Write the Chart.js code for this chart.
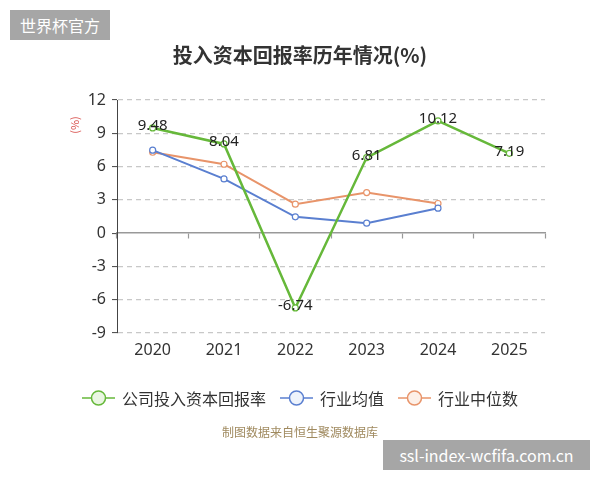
<!DOCTYPE html>
<html>
<head>
<meta charset="utf-8">
<script src="https://cdn.jsdelivr.net/npm/chart.js@4.4.0/dist/chart.umd.min.js"></script>
<style>
  html, body { margin: 0; padding: 0; background: #fff; }
  #wrap { position: relative; width: 600px; height: 480px; overflow: hidden; font-family: "Noto Sans CJK SC", "Noto Sans", sans-serif; }
  #c { position: absolute; left: 0; top: 0; }
  .abs { position: absolute; white-space: nowrap; }
  #wm1 { left: 10px; top: 10px; width: 100px; height: 30px; background: #a6a6a6; color: #fff; font-size: 16px; line-height: 30px; text-align: center; }
  #wm2 { left: 383px; top: 440px; width: 207px; height: 30px; background: #a6a6a6; color: #fff; font-size: 16px; line-height: 30px; text-align: center; }
  #title { left: 0; width: 600px; top: 40px; text-align: center; font-size: 20px; font-weight: bold; color: #333; line-height: 30px; }
  #unit { left: 62px; top: 118px; width: 24px; font-size: 11px; color: #d9534f; transform: rotate(-90deg); text-align: center; line-height: 14px; }
  #src { left: 0; width: 600px; top: 424px; text-align: center; font-size: 12px; color: #a08a5f; line-height: 16px; }
  #legend { left: 0; top: 386px; width: 600px; height: 24px; }
  .item { position: absolute; top: 0; height: 24px; }
  .item svg { position: absolute; left: 0; top: 2px; }
  .item span { position: absolute; left: 40px; top: 0; font-size: 16px; line-height: 24px; color: #333; }
</style>
</head>
<body>
<div id="wrap">
  <canvas id="c" width="600" height="480"></canvas>
  <div id="wm1" class="abs">世界杯官方</div>
  <div id="title" class="abs">投入资本回报率历年情况(%)</div>
  <div id="unit" class="abs">(%)</div>
  <div id="legend" class="abs"></div>
  <div id="src" class="abs">制图数据来自恒生聚源数据库</div>
  <div id="wm2" class="abs">ssl-index-wcfifa.com.cn</div>
</div>
<script>
const categories = ["2020", "2021", "2022", "2023", "2024", "2025"];
const companyROIC = [9.48, 8.04, -6.74, 6.81, 10.12, 7.19];
const industryAvg = [7.48, 4.89, 1.47, 0.90, 2.25, null];
const industryMedian = [7.29, 6.21, 2.61, 3.66, 2.67, null];
const seriesNames = ["公司投入资本回报率", "行业均值", "行业中位数"];
const yTicks = { min: -9, max: 12, step: 3 };

const colors = ["#66b83a", "#5a7fd0", "#e8946a"];
const fills = ["#eaf6e2", "#eef3fb", "#fdf0e8"];

// HTML legend
const legendPos = [82, 280, 398];
const legend = document.getElementById('legend');
seriesNames.forEach((name, i) => {
  const d = document.createElement('div');
  d.className = 'item';
  d.style.left = legendPos[i] + 'px';
  d.innerHTML = '<svg width="34" height="20"><line x1="0" y1="10" x2="33" y2="10" stroke="' + colors[i] + '" stroke-width="1.5"/>' +
    '<circle cx="16.5" cy="10" r="7" fill="' + fills[i] + '" stroke="' + colors[i] + '" stroke-width="1.5"/></svg>' +
    '<span>' + name + '</span>';
  legend.appendChild(d);
});

const labelPlugin = {
  id: 'valueLabels',
  afterDatasetsDraw(chart) {
    const ctx = chart.ctx;
    const meta = chart.getDatasetMeta(0);
    const ds = chart.data.datasets[0];
    ctx.save();
    ctx.font = '15px "Noto Sans", "Noto Sans CJK SC", sans-serif';
    ctx.fillStyle = '#222';
    ctx.textAlign = 'center';
    ctx.textBaseline = 'middle';
    meta.data.forEach((pt, i) => {
      const v = ds.data[i];
      if (v === null || v === undefined) return;
      ctx.fillText(v.toFixed(2), pt.x, pt.y - 2);
    });
    ctx.restore();
  }
};

const mkDs = (label, data, i, w) => ({
  label, data,
  borderColor: colors[i],
  backgroundColor: fills[i],
  borderWidth: w,
  pointRadius: 3,
  pointBorderWidth: 1.2,
  pointBackgroundColor: '#fff',
  pointBorderColor: colors[i],
  tension: 0,
  spanGaps: false,
  xAxisID: 'x', yAxisID: 'y'
});

new Chart(document.getElementById('c'), {
  type: 'line',
  data: {
    labels: categories,
    datasets: [
      mkDs(seriesNames[0], companyROIC, 0, 2.5),
      mkDs(seriesNames[1], industryAvg, 1, 2),
      mkDs(seriesNames[2], industryMedian, 2, 2)
    ]
  },
  options: {
    responsive: false,
    animation: false,
    layout: { padding: { left: 60, right: 55, top: 100, bottom: 117 } },
    plugins: { legend: { display: false }, title: { display: false }, tooltip: { enabled: false } },
    scales: {
      x: {
        type: 'category',
        position: 'bottom',
        offset: true,
        border: { display: false },
        grid: { display: false, drawTicks: false },
        ticks: { color: '#333', font: { size: 16, family: '"Noto Sans", sans-serif' }, padding: 8, maxRotation: 0, autoSkip: false },
        afterFit(s) { s.height = 30; }
      },
      x2: {
        type: 'category',
        labels: categories,
        position: { y: 0 },
        offset: true,
        border: { display: true, color: '#999', width: 1.5 },
        grid: { display: true, offset: true, drawOnChartArea: false, drawTicks: true, tickLength: 5, tickColor: '#999', tickWidth: 1.2, tickBorderDash: [] },
        ticks: { display: false }
      },
      y: {
        min: yTicks.min, max: yTicks.max,
        position: 'left',
        border: { display: true, color: '#444', width: 1, dash: [5, 4] },
        grid: { color: (c) => (c.tick && c.tick.value === 0 ? 'rgba(0,0,0,0)' : '#c8c8c8'), lineWidth: 1.2, tickLength: 5, tickColor: '#444', tickWidth: 1, tickBorderDash: [] },
        ticks: { stepSize: yTicks.step, color: '#333', font: { size: 16, family: '"Noto Sans", sans-serif' }, padding: 6 },
        afterFit(s) { s.width = 57; }
      }
    }
  },
  plugins: [labelPlugin]
});
</script>
</body>
</html>
